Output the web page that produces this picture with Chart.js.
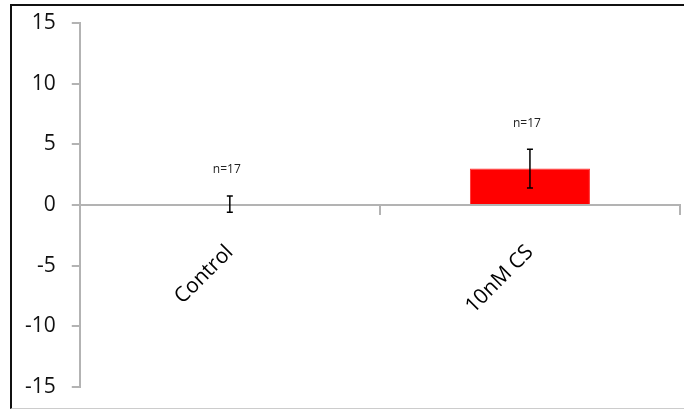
<!DOCTYPE html>
<html lang="en">
  <head>
    <meta charset="UTF-8">
    <title>Control vs 10nM CS</title>
    <script src="https://cdn.jsdelivr.net/npm/chart.js"></script>
    <style>
      body { margin: 0; background: #fff; }
      #wrap { position: relative; width: 684px; height: 409px; }
      #frame {
        position: absolute; left: 10px; top: 4px; right: 0; bottom: 0;
        border-left: 2px solid #111; border-top: 2px solid #111;
        border-bottom: 1px solid #ccc; pointer-events: none;
      }
    </style>
  </head>
  <body>
    <div id="wrap">
      <canvas id="myChart" width="684" height="409"></canvas>
      <div id="frame"></div>
    </div>
    <script>
      const categories = ['Control', '10nM CS'];
      const means = [0.07, 3.0];
      const sems = [0.67, 1.6];
      const nLabels = ['n=17', 'n=17'];
      const yTicks = [-15, -10, -5, 0, 5, 10, 15];

      // error bars plus the n= text above each one
      const errorBars = {
        id: 'errorBars',
        afterDatasetsDraw(chart) {
          const ctx = chart.ctx;
          const y = chart.scales.y;
          const meta = chart.getDatasetMeta(0);
          ctx.save();
          meta.data.forEach((bar, i) => {
            const top = y.getPixelForValue(means[i] + sems[i]);
            const bot = y.getPixelForValue(means[i] - sems[i]);
            ctx.strokeStyle = '#000';
            ctx.lineWidth = 1.5;
            ctx.beginPath();
            ctx.moveTo(bar.x, top); ctx.lineTo(bar.x, bot);
            ctx.moveTo(bar.x - 3, top); ctx.lineTo(bar.x + 3, top);
            ctx.moveTo(bar.x - 3, bot); ctx.lineTo(bar.x + 3, bot);
            ctx.stroke();
            ctx.fillStyle = '#222';
            ctx.font = '12px "Open Sans"';
            ctx.textAlign = 'center';
            ctx.textBaseline = 'middle';
            ctx.fillText(nLabels[i], bar.x - 3, top - 26);
          });
          ctx.restore();
        }
      };

      new Chart(document.getElementById('myChart'), {
        type: 'bar',
        data: {
          labels: categories,
          datasets: [{
            data: means,
            backgroundColor: ['#d9d9d9', '#ff0000'],
            borderColor: ['#bfbfbf', '#ff3333'],
            borderWidth: 1,
            barPercentage: 0.4,
            categoryPercentage: 1
          }]
        },
        options: {
          responsive: false,
          animation: false,
          layout: { padding: { left: 9, top: 23, right: 4, bottom: 22 } },
          plugins: { legend: { display: false }, tooltip: { enabled: false } },
          scales: {
            x: {
              position: { y: 0 },
              grid: { drawOnChartArea: false, drawTicks: true, tickLength: 9, color: '#b3b3b3', lineWidth: 2 },
              border: { color: '#b3b3b3', width: 2 },
              ticks: {
                minRotation: 45, maxRotation: 45,
                color: '#000', padding: 26,
                font: { family: 'Open Sans', size: 21 }
              }
            },
            y: {
              min: -15, max: 15,
              afterBuildTicks: (axis) => { axis.ticks = yTicks.map(v => ({ value: v })); },
              // the label padding would otherwise push the plot area inwards
              afterFit: (axis) => { axis.paddingTop = 0; axis.paddingBottom = 0; },
              grid: { drawOnChartArea: false, drawTicks: true, tickLength: 8, color: '#b3b3b3', lineWidth: 2 },
              border: { color: '#b3b3b3', width: 2 },
              ticks: {
                color: '#111', padding: 16,
                font: { family: 'Open Sans', size: 21 }
              }
            }
          }
        },
        plugins: [errorBars]
      });
    </script>
  </body>
</html>
